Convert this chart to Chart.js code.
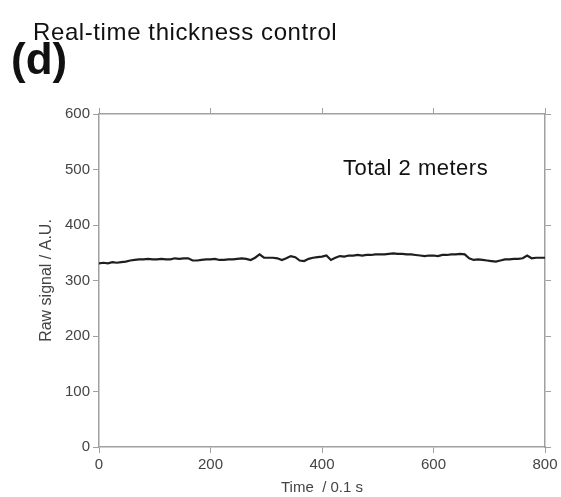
<!DOCTYPE html>
<html>
<head>
<meta charset="utf-8">
<script src="https://cdn.jsdelivr.net/npm/chart.js@4"></script>
<style>
  body { margin: 0; background: #fff; font-family: "Liberation Sans", Arial, sans-serif; }
  #wrap { position: relative; width: 561px; height: 497px; }
  #title { position: absolute; left: 33px; top: 18px; font-size: 24px; color: #111; letter-spacing: 0.6px; }
  #label { position: absolute; left: 11px; top: 34px; font-size: 44px; font-weight: bold; color: #111; }
  #note { position: absolute; left: 343px; top: 155px; font-size: 22px; color: #111; letter-spacing: 0.5px; }
  canvas { position: absolute; left: 0; top: 0; }
</style>
</head>
<body>
<div id="wrap">
  <canvas id="chart" width="561" height="497"></canvas>
  <div id="title">Real-time thickness control</div>
  <div id="label">(d)</div>
  <div id="note">Total 2 meters</div>
</div>
<script>
// time in units of 0.1 s
const times = [0, 8, 16, 24, 32, 40, 48, 56, 64, 72, 80, 88, 96, 104, 112, 120, 128, 136, 144, 152,
  160, 168, 176, 184, 192, 200, 208, 216, 224, 232, 240, 248, 256, 264, 272, 280, 288, 296, 304, 312,
  320, 328, 336, 344, 352, 360, 368, 376, 384, 392, 400, 408, 416, 424, 432, 440, 448, 456, 464, 472,
  480, 488, 496, 504, 512, 520, 528, 536, 544, 552, 560, 568, 576, 584, 592, 600, 608, 616, 624, 632,
  640, 648, 656, 664, 672, 680, 688, 696, 704, 712, 720, 728, 736, 744, 752, 760, 768, 776, 784, 792, 800];
const rawSignal = [331, 332, 331, 333, 332, 333, 334, 336, 337, 338, 338, 339, 338, 338, 339, 338, 338, 340, 339, 340,
  340, 336, 336, 337, 338, 338, 339, 337, 337, 338, 338, 339, 340, 339, 337, 341, 347, 341, 341, 341,
  340, 337, 340, 344, 342, 336, 335, 339, 341, 342, 343, 345, 337, 341, 344, 343, 345, 345, 346, 345,
  346, 346, 347, 347, 347, 348, 349, 348, 348, 347, 347, 346, 345, 344, 345, 345, 344, 346, 346, 347,
  347, 348, 347, 340, 337, 338, 337, 336, 335, 334, 336, 338, 338, 339, 339, 340, 345, 340, 341, 341, 341];
const xTicks = [0, 200, 400, 600, 800];
const yTicks = [0, 100, 200, 300, 400, 500, 600];

const axisColor = "#a0a0a0";
const tickFont = { family: "Liberation Sans", size: 15 };

// plain frame axis for top / right sides: tick marks, no labels
function frameAxis(pos, isX) {
  return {
    type: "linear",
    position: pos,
    min: 0,
    max: isX ? 800 : 600,
    afterBuildTicks: (s) => { s.ticks = (isX ? xTicks : yTicks).map((v) => ({ value: v })); },
    grid: { drawOnChartArea: false, drawTicks: true, tickLength: 6, color: axisColor },
    border: { color: axisColor, width: 1.5 },
    ticks: { display: false },
    afterFit: (s) => { if (isX) s.height = 6; else s.width = 16; }
  };
}

new Chart(document.getElementById("chart").getContext("2d"), {
  type: "line",
  data: {
    datasets: [{
      data: times.map((t, i) => ({ x: t, y: rawSignal[i] })),
      borderColor: "#1e1e1e",
      borderWidth: 2.2,
      pointRadius: 0,
      tension: 0
    }]
  },
  options: {
    responsive: false,
    animation: false,
    layout: { padding: { top: 108, left: 0, right: 0, bottom: 0 } },
    plugins: { legend: { display: false }, tooltip: { enabled: false } },
    scales: {
      x: {
        type: "linear",
        min: 0,
        max: 800,
        afterBuildTicks: (s) => { s.ticks = xTicks.map((v) => ({ value: v })); },
        grid: { drawOnChartArea: false, drawTicks: true, tickLength: 6, color: axisColor },
        border: { color: axisColor, width: 1.5 },
        ticks: { color: "#444", font: tickFont, padding: 3, maxRotation: 0 },
        title: { display: true, text: "Time  / 0.1 s", color: "#444", font: tickFont, padding: 0 },
        afterFit: (s) => { s.height = 50; }
      },
      y: {
        type: "linear",
        min: 0,
        max: 600,
        afterBuildTicks: (s) => { s.ticks = yTicks.map((v) => ({ value: v })); },
        grid: { drawOnChartArea: false, drawTicks: true, tickLength: 6, color: axisColor },
        border: { color: axisColor, width: 1.5 },
        ticks: { color: "#444", font: tickFont, padding: 3 },
        title: { display: true, text: "Raw signal / A.U.", color: "#444", font: { family: "Liberation Sans", size: 16 }, padding: { top: 37, bottom: 0 } },
        afterFit: (s) => { s.width = 99; }
      },
      x2: frameAxis("top", true),
      y2: frameAxis("right", false)
    }
  }
});
</script>
</body>
</html>
